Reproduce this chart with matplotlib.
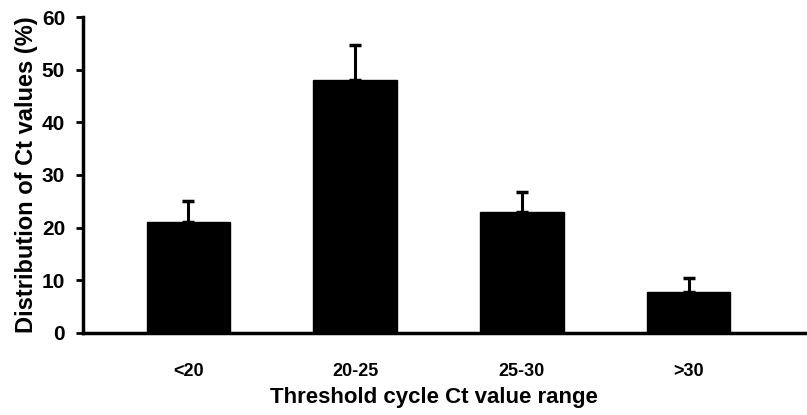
import matplotlib
matplotlib.use("Agg")
import matplotlib.pyplot as plt
import numpy as np

categories = ["<20", "20-25", "25-30", ">30"]
values = [21, 48, 23, 7.7]
errors = [4, 6.6, 3.8, 2.8]

plt.rcParams["font.family"] = ["Liberation Sans", "DejaVu Sans"]
plt.rcParams["font.weight"] = "bold"

fig = plt.figure(figsize=(8.07, 4.15), dpi=100)
ax = fig.add_axes([0.103, 0.198, 0.895, 0.761])

x = np.arange(len(categories))
ax.bar(x, values, width=0.5, color="black", edgecolor="black")
ax.errorbar(x, values, yerr=[np.zeros(len(errors)), errors], fmt="none",
            ecolor="black", elinewidth=2.2, capsize=4, capthick=2.5)

ax.set_xlim(-0.63, 3.7)
ax.set_ylim(0, 60)
ax.set_yticks(range(0, 61, 10))
ax.set_xticks(x)
ax.set_xticklabels(categories, fontsize=13, fontweight="bold")
ax.tick_params(axis="x", length=0, pad=22)
ax.tick_params(axis="y", length=5, width=2, labelsize=15, pad=8)
for lab in ax.get_yticklabels():
    lab.set_fontweight("bold")

for s in ["top", "right"]:
    ax.spines[s].set_visible(False)
for s in ["left", "bottom"]:
    ax.spines[s].set_linewidth(2.5)

ax.set_ylabel("Distribution of Ct values (%)", fontsize=17, fontweight="bold", labelpad=3)
ax.set_xlabel("Threshold cycle Ct value range", fontsize=16, fontweight="bold")
ax.xaxis.set_label_coords(0.486, -0.172)

fig.savefig("out.png", dpi=100)
